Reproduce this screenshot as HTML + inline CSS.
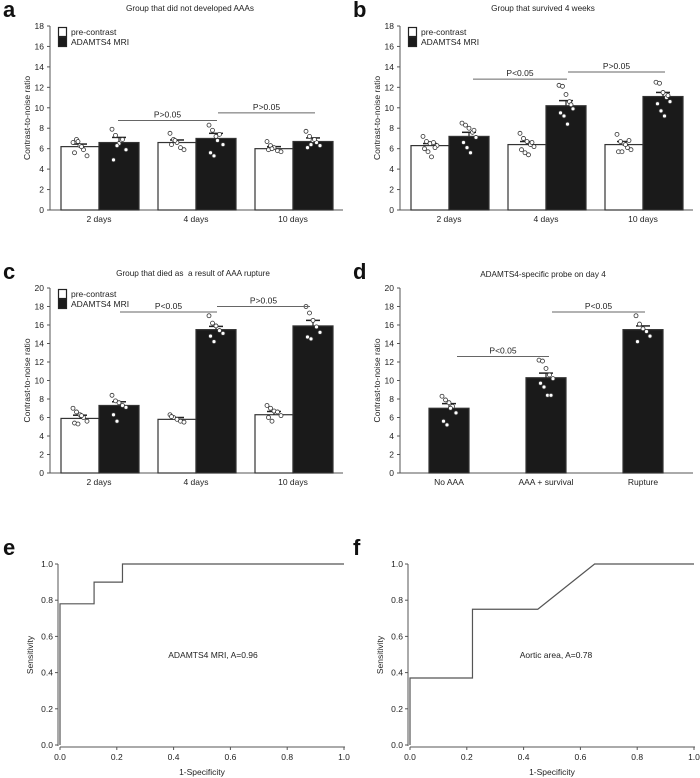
<!DOCTYPE html>
<html><head><meta charset="utf-8">
<style>
html,body{margin:0;padding:0;background:#fff;}
svg{display:block;font-family:"Liberation Sans",Arial,sans-serif;}
text{white-space:pre;}
</style></head>
<body>
<svg id="fig" width="700" height="778" viewBox="0 0 700 778" xmlns="http://www.w3.org/2000/svg"></svg>
<script>
// ---- data ----
const daysCats = ["2 days", "4 days", "10 days"];
const aPre = [6.2, 6.6, 6.0];
const aPreErr = [0.25, 0.25, 0.2];
const aMri = [6.6, 7.0, 6.7];
const aMriErr = [0.5, 0.5, 0.35];
const aPreDots = [[6.6,6.9,6.3,5.9,5.3,5.6,6.7,6.2],[7.5,6.9,6.6,6.1,5.9,6.4,6.8],[6.7,6.3,6.1,5.8,5.7,5.9,6.0]];
const aMriDots = [[7.9,7.3,6.5,6.9,5.9,4.9,6.3],[8.3,7.8,7.2,7.4,6.4,5.6,5.3,6.8],[7.7,7.2,6.8,6.6,6.3,6.1,6.4,6.9]];
const bPre = [6.3, 6.4, 6.4];
const bPreErr = [0.2, 0.3, 0.3];
const bMri = [7.2, 10.2, 11.1];
const bMriErr = [0.4, 0.5, 0.4];
const bPreDots = [[7.2,6.7,6.5,6.6,6.3,6.0,5.7,5.2,6.1],[7.5,7.0,6.7,6.4,6.2,5.9,5.6,5.4,6.6],[7.4,6.7,6.5,6.1,5.9,5.7,5.7,6.4,6.8]];
const bMriDots = [[8.5,8.3,8.0,7.6,7.1,6.6,6.1,5.6,7.8],[12.2,12.1,11.3,10.6,9.9,9.5,9.2,8.4,10.3],[12.5,12.4,11.5,11.0,10.6,10.4,9.7,9.2,11.2]];
const cPre = [5.9, 5.8, 6.3];
const cPreErr = [0.35, 0.2, 0.35];
const cMri = [7.3, 15.5, 15.9];
const cMriErr = [0.4, 0.35, 0.6];
const cPreDots = [[7.0,6.6,6.3,6.0,5.6,5.4,5.3,6.2],[6.3,6.0,5.8,5.6,5.5,6.1],[7.3,7.0,6.7,6.6,6.2,6.0,5.6]];
const cMriDots = [[8.4,7.8,7.6,7.3,7.1,6.3,5.6],[17.0,16.2,15.9,15.4,15.1,14.8,14.2],[18.0,17.3,16.5,15.8,15.2,14.7,14.5]];
const dCats = ["No AAA", "AAA + survival", "Rupture"];
const dVals = [7.0, 10.3, 15.5];
const dErr = [0.5, 0.5, 0.4];
const dDots = [[8.3,7.9,7.6,7.2,6.5,5.6,5.2,7.0],[12.2,12.1,11.3,10.6,10.2,9.7,9.3,8.4,8.4],[17.0,16.1,15.6,15.3,14.8,14.2]];
const rocTicks = [0, 0.2, 0.4, 0.6, 0.8, 1.0];
const eFpr = [0, 0, 0.12, 0.12, 0.22, 0.22, 1.0];
const eTpr = [0, 0.78, 0.78, 0.9, 0.9, 1.0, 1.0];
const fFpr = [0, 0, 0.22, 0.22, 0.45, 0.65, 1.0];
const fTpr = [0, 0.37, 0.37, 0.75, 0.75, 1.0, 1.0];

const NS = "http://www.w3.org/2000/svg";
const svg = document.getElementById("fig");
function el(tag, attrs, parent, text) {
  const e = document.createElementNS(NS, tag);
  for (const k in attrs) e.setAttribute(k, attrs[k]);
  if (text !== undefined) e.textContent = text;
  (parent || svg).appendChild(e);
  return e;
}
function group(name) {
  const g = el("g", {}, svg);
  
  
  return g;
}

function panelLabel(g, letter, x, y) {
  const t = el("text", {x: x, y: y, "font-size": 22, "font-weight": "bold", fill: "#111"}, g, letter);
  
  
}

function barPanel(opt) {
  const g = group(opt.name);
  const ox = opt.ox;
  const y0 = opt.y0, yTop = opt.yTop, ymax = opt.ymax;
  const ys = v => y0 - (v / ymax) * (y0 - yTop);
  panelLabel(g, opt.letter, ox + 3, opt.labelY);
  const title = el("text", {x: ox + opt.titleX, y: opt.titleY, "font-size": 8.2, "text-anchor": "middle", fill: "#222"}, g, opt.title);
  
  
  const ax = el("line", {x1: ox + 50, y1: yTop, x2: ox + 50, y2: y0, stroke: "#555", "stroke-width": 1}, g);
  
  
  for (let v = 0; v <= ymax; v += 2) {
    const y = ys(v);
    el("line", {x1: ox + 47, y1: y, x2: ox + 50, y2: y, stroke: "#555"}, g);
    const tl = el("text", {x: ox + 44, y: y + 3, "font-size": 8.5, "text-anchor": "end", fill: "#222"}, g, String(v));
    
    
  }
  const cy = (y0 + yTop) / 2;
  const yt = el("text", {x: ox + 30, y: cy, "font-size": 8.5, "text-anchor": "middle", fill: "#222", transform: `rotate(-90 ${ox + 30} ${cy})`}, g, "Contrast-to-noise ratio");
  
  
  const xa = el("line", {x1: ox + 48, y1: y0, x2: ox + 343, y2: y0, stroke: "#555", "stroke-width": 1}, g);
  
  
  const centers = [99, 196, 293].map(c => c + ox);
  opt.cats.forEach((c, i) => {
    const t = el("text", {x: centers[i], y: y0 + 12, "font-size": 8.5, "text-anchor": "middle", fill: "#222"}, g, c);
    
    
  });
  function drawBar(x, w, v, err, dots, fill, nm) {
    const r = el("rect", {x: x, y: ys(v), width: w, height: y0 - ys(v), fill: fill, stroke: "#333", "stroke-width": 1.2}, g);
    
    
    const cx = x + w / 2, yt2 = ys(v + err);
    el("line", {x1: cx, y1: ys(v), x2: cx, y2: yt2, stroke: "#222", "stroke-width": 1.2}, g);
    el("line", {x1: cx - 7, y1: yt2, x2: cx + 7, y2: yt2, stroke: "#222", "stroke-width": 1.5}, g);
    dots.forEach((d, j) => {
      const dx = cx + ((j % 5) - 2) * 3.5 + (j >= 5 ? 1.5 : 0);
      const c = el("circle", {cx: dx, cy: ys(d), r: 2, fill: "#fff", stroke: "#333", "stroke-width": 0.8}, g);
      
      
    });
  }
  if (opt.single) {
    opt.vals.forEach((v, i) => drawBar(centers[i] - 20, 40, v, opt.err[i], opt.dots[i], "#1a1a1a", "bar-" + i));
  } else {
    opt.pre.forEach((v, i) => drawBar(centers[i] - 38, 38, v, opt.preErr[i], opt.preDots[i], "#fff", "bar-pre-" + i));
    opt.mri.forEach((v, i) => drawBar(centers[i], 40, v, opt.mriErr[i], opt.mriDots[i], "#1a1a1a", "bar-mri-" + i));
    const lg = el("g", {}, g);
    
    
    const ly = yTop + 1;
    el("rect", {x: ox + 58.5, y: ly + 0.5, width: 8, height: 9, fill: "#fff", stroke: "#222", "stroke-width": 1.2}, lg);
    el("rect", {x: ox + 58.5, y: ly + 10.5, width: 8, height: 9, fill: "#1a1a1a", stroke: "#222", "stroke-width": 1.2}, lg);
    const l1 = el("text", {x: ox + 71, y: ly + 8, "font-size": 8.5, fill: "#222"}, lg, "pre-contrast");
    
    
    const l2 = el("text", {x: ox + 71, y: ly + 18, "font-size": 8.5, fill: "#222"}, lg, "ADAMTS4 MRI");
    
    
  }
  opt.sig.forEach(s => {
    const y = ys(s.v);
    const l = el("line", {x1: ox + s.x1, y1: y, x2: ox + s.x2, y2: y, stroke: "#666", "stroke-width": 1}, g);
    
    
    const t = el("text", {x: ox + (s.x1 + s.x2) / 2, y: y - 3, "font-size": 8.5, "text-anchor": "middle", fill: "#222"}, g, s.t);
    
    
  });
}

barPanel({name: "panel-a", letter: "a", ox: 0, labelY: 17, title: "Group that did not developed AAAs", titleX: 190, titleY: 11,
  y0: 210, yTop: 26, ymax: 18, cats: daysCats, pre: aPre, preErr: aPreErr, mri: aMri, mriErr: aMriErr, preDots: aPreDots, mriDots: aMriDots,
  sig: [{x1: 118, x2: 217, v: 8.75, t: "P>0.05"}, {x1: 218, x2: 315, v: 9.5, t: "P>0.05"}]});
barPanel({name: "panel-b", letter: "b", ox: 350, labelY: 17, title: "Group that survived 4 weeks", titleX: 193, titleY: 11,
  y0: 210, yTop: 26, ymax: 18, cats: daysCats, pre: bPre, preErr: bPreErr, mri: bMri, mriErr: bMriErr, preDots: bPreDots, mriDots: bMriDots,
  sig: [{x1: 123, x2: 217, v: 12.8, t: "P<0.05"}, {x1: 218, x2: 315, v: 13.5, t: "P>0.05"}]});
barPanel({name: "panel-c", letter: "c", ox: 0, labelY: 279, title: "Group that died as  a result of AAA rupture", titleX: 193, titleY: 276,
  y0: 473, yTop: 288, ymax: 20, cats: daysCats, pre: cPre, preErr: cPreErr, mri: cMri, mriErr: cMriErr, preDots: cPreDots, mriDots: cMriDots,
  sig: [{x1: 120, x2: 217, v: 17.4, t: "P<0.05"}, {x1: 217, x2: 310, v: 18.0, t: "P>0.05"}]});
barPanel({name: "panel-d", letter: "d", ox: 350, labelY: 279, title: "ADAMTS4-specific probe on day 4", titleX: 193, titleY: 277, single: true,
  y0: 473, yTop: 288, ymax: 20, cats: dCats, vals: dVals, err: dErr, dots: dDots,
  sig: [{x1: 107, x2: 199, v: 12.6, t: "P<0.05"}, {x1: 202, x2: 295, v: 17.4, t: "P<0.05"}]});

function rocPanel(opt) {
  const g = group(opt.name);
  const ox = opt.ox;
  const x0 = ox + 60, x1 = ox + 344, y0 = 745, y1 = 564;
  const xs = v => x0 + v * (x1 - x0);
  const ys = v => y0 - v * (y0 - y1);
  panelLabel(g, opt.letter, ox + 3, 555);
  const ya = el("line", {x1: ox + 58, y1: y1, x2: ox + 58, y2: y0 + 1, stroke: "#555"}, g);
  
  
  const xa = el("line", {x1: x0, y1: 747, x2: x1 + 1, y2: 747, stroke: "#555"}, g);
  
  
  rocTicks.forEach(t => {
    el("line", {x1: ox + 55, y1: ys(t), x2: ox + 58, y2: ys(t), stroke: "#555"}, g);
    const yl = el("text", {x: ox + 53, y: ys(t) + 3, "font-size": 8.5, "text-anchor": "end", fill: "#222"}, g, t.toFixed(1));
    
    
    el("line", {x1: xs(t), y1: 747, x2: xs(t), y2: 750, stroke: "#555"}, g);
    const xl = el("text", {x: xs(t), y: 760, "font-size": 8.5, "text-anchor": "middle", fill: "#222"}, g, t.toFixed(1));
    
    
  });
  const xt = el("text", {x: (x0 + x1) / 2, y: 775, "font-size": 8.5, "text-anchor": "middle", fill: "#222"}, g, "1-Specificity");
  
  
  const yt = el("text", {x: ox + 33, y: 655, "font-size": 8.5, "text-anchor": "middle", fill: "#222", transform: `rotate(-90 ${ox + 33} 655)`}, g, "Sensitivity");
  
  
  const pts = opt.fpr.map((f, i) => xs(f) + "," + ys(opt.tpr[i])).join(" ");
  const pl = el("polyline", {points: pts, fill: "none", stroke: "#555", "stroke-width": 1.2}, g);
  
  
  const an = el("text", {x: opt.annX, y: 658, "font-size": 8.5, "text-anchor": "middle", fill: "#222"}, g, opt.ann);
  
  
}
rocPanel({name: "panel-e", letter: "e", ox: 0, fpr: eFpr, tpr: eTpr, ann: "ADAMTS4 MRI, A=0.96", annX: 213});
rocPanel({name: "panel-f", letter: "f", ox: 350, fpr: fFpr, tpr: fTpr, ann: "Aortic area, A=0.78", annX: 556});
</script>
</body></html>
